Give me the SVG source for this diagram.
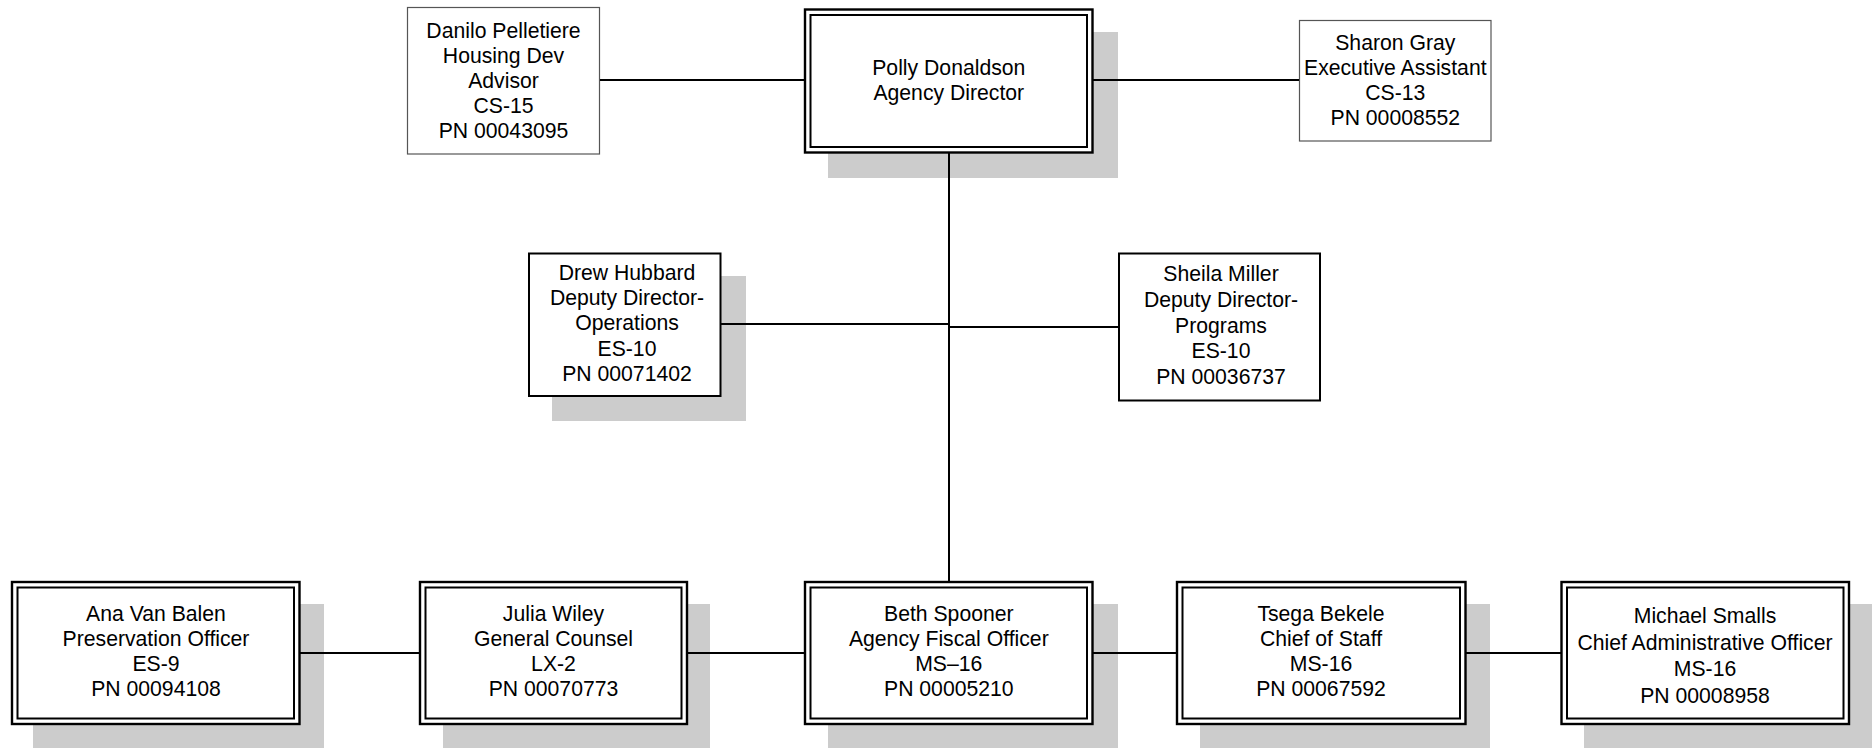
<svg xmlns="http://www.w3.org/2000/svg" width="1872" height="748" viewBox="0 0 1872 748">
<style>
.bg{fill:#ffffff}
.sh{fill:#cccccc}
.thin{fill:#ffffff;stroke:#555555;stroke-width:1.2}
.single{fill:#ffffff;stroke:#000000;stroke-width:2}
.outer{fill:#ffffff;stroke:#000000;stroke-width:2.4}
.inner{fill:none;stroke:#000000;stroke-width:2}
.conn{fill:none;stroke:#000000;stroke-width:2}
text{font-family:"Liberation Sans",Arial,sans-serif;font-size:21.2px;fill:#000000;text-anchor:middle}
</style>
<rect class="bg" x="0" y="0" width="1872" height="748"/>

<g id="danilo">
<rect class="thin" x="407.5" y="7.5" width="192" height="146.5"/>
<text x="503.5" y="38">Danilo Pelletiere</text>
<text x="503.5" y="63">Housing Dev</text>
<text x="503.5" y="88">Advisor</text>
<text x="503.5" y="113">CS-15</text>
<text x="503.5" y="138">PN 00043095</text>
</g>

<g id="polly">
<rect class="sh" x="828" y="32" width="290" height="146"/>
<rect class="outer" x="805" y="9.5" width="287.5" height="143"/>
<rect class="inner" x="810.5" y="15" width="276.5" height="132"/>
<text x="948.8" y="75">Polly Donaldson</text>
<text x="948.8" y="100">Agency Director</text>
</g>

<g id="sharon">
<rect class="thin" x="1299.5" y="20.5" width="191.5" height="120.5"/>
<text x="1395.3" y="50">Sharon Gray</text>
<text x="1395.3" y="75">Executive Assistant</text>
<text x="1395.3" y="100">CS-13</text>
<text x="1395.3" y="125">PN 00008552</text>
</g>

<g id="drew">
<rect class="sh" x="552" y="276" width="194" height="145"/>
<rect class="single" x="529" y="253.5" width="191.5" height="142.5"/>
<text x="627" y="280"> Drew Hubbard</text>
<text x="627" y="305">Deputy Director-</text>
<text x="627" y="330">Operations</text>
<text x="627" y="355.5">ES-10</text>
<text x="627" y="381">PN 00071402</text>
</g>

<g id="sheila">
<rect class="single" x="1119" y="253.5" width="201" height="147"/>
<text x="1221" y="281">Sheila Miller</text>
<text x="1221" y="307">Deputy Director-</text>
<text x="1221" y="332.5">Programs</text>
<text x="1221" y="358">ES-10</text>
<text x="1221" y="384">PN 00036737</text>
</g>

<g id="ana">
<rect class="sh" x="33" y="604" width="291" height="144"/>
<rect class="outer" x="12" y="582" width="287.5" height="142"/>
<rect class="inner" x="17.5" y="587.5" width="276.5" height="131"/>
<text x="156" y="621">Ana Van Balen</text>
<text x="156" y="646">Preservation Officer</text>
<text x="156" y="671">ES-9</text>
<text x="156" y="696">PN 00094108</text>
</g>

<g id="julia">
<rect class="sh" x="443" y="604" width="267" height="144"/>
<rect class="outer" x="420" y="582" width="267" height="142"/>
<rect class="inner" x="425.5" y="587.5" width="256" height="131"/>
<text x="553.5" y="621">Julia Wiley</text>
<text x="553.5" y="646">General Counsel</text>
<text x="553.5" y="671">LX-2</text>
<text x="553.5" y="696">PN 00070773</text>
</g>

<g id="beth">
<rect class="sh" x="828" y="604" width="290" height="144"/>
<rect class="outer" x="805" y="582" width="287.5" height="142"/>
<rect class="inner" x="810.5" y="587.5" width="276.5" height="131"/>
<text x="948.8" y="621">Beth Spooner</text>
<text x="948.8" y="646">Agency Fiscal Officer</text>
<text x="948.8" y="671">MS–16</text>
<text x="948.8" y="696">PN 00005210</text>
</g>

<g id="tsega">
<rect class="sh" x="1200" y="604" width="290" height="144"/>
<rect class="outer" x="1177" y="582" width="288.5" height="142"/>
<rect class="inner" x="1182.5" y="587.5" width="277.5" height="131"/>
<text x="1321" y="621">Tsega Bekele</text>
<text x="1321" y="646">Chief of Staff</text>
<text x="1321" y="671">MS-16</text>
<text x="1321" y="696">PN 00067592</text>
</g>

<g id="michael">
<rect class="sh" x="1584" y="604" width="288" height="144"/>
<rect class="outer" x="1561.5" y="582" width="287.5" height="142"/>
<rect class="inner" x="1567" y="587.5" width="276.5" height="131"/>
<text x="1705" y="623">Michael Smalls</text>
<text x="1705" y="649.5">Chief Administrative Officer</text>
<text x="1705" y="676">MS-16</text>
<text x="1705" y="702.5">PN 00008958</text>
</g>

<g id="connectors">
<line class="conn" x1="600" y1="80" x2="805" y2="80"/>
<line class="conn" x1="1092" y1="80" x2="1299" y2="80"/>
<line class="conn" x1="949" y1="153" x2="949" y2="582"/>
<line class="conn" x1="720" y1="324" x2="949" y2="324"/>
<line class="conn" x1="949" y1="327" x2="1119" y2="327"/>
<line class="conn" x1="299" y1="653" x2="420" y2="653"/>
<line class="conn" x1="687" y1="653" x2="805" y2="653"/>
<line class="conn" x1="1092" y1="653" x2="1177" y2="653"/>
<line class="conn" x1="1465" y1="653" x2="1562" y2="653"/>
</g>
</svg>
